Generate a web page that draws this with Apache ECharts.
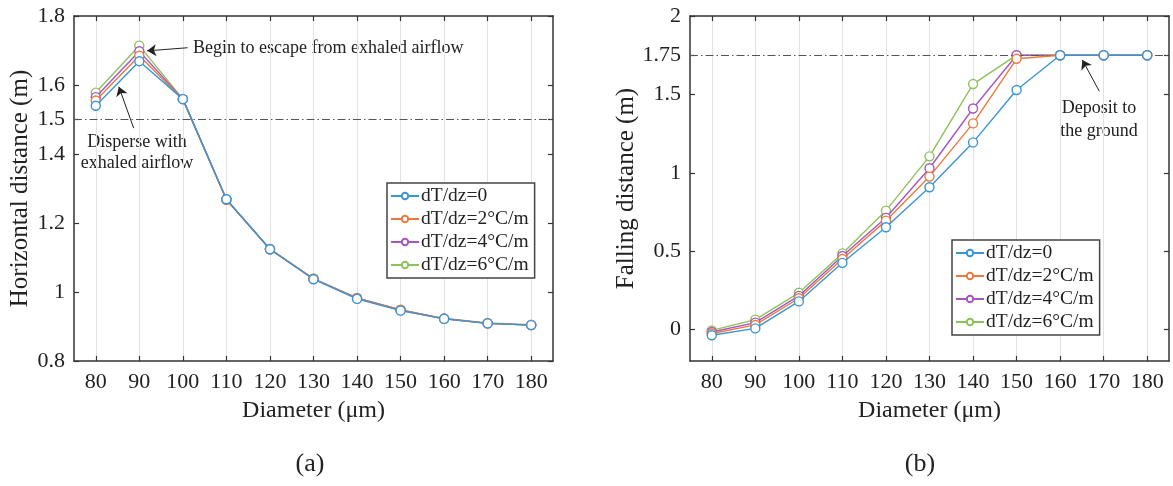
<!DOCTYPE html>
<html>
<head>
<meta charset="utf-8">
<script src="https://cdn.jsdelivr.net/npm/echarts@6/dist/echarts.min.js"></script>
<style>
html,body{margin:0;padding:0;background:#fff;}
#c{width:1173px;height:486px;}
</style>
</head>
<body>
<div id="c"></div>
<script>
// ---- data ----
const diameters = [80, 90, 100, 110, 120, 130, 140, 150, 160, 170, 180];
const seriesNames = ['dT/dz=0', 'dT/dz=2°C/m', 'dT/dz=4°C/m', 'dT/dz=6°C/m'];
// (a) horizontal distance (m)
const horiz0 = [1.540, 1.669, 1.559, 1.269, 1.124, 1.037, 0.980, 0.946, 0.922, 0.909, 0.904];
const horiz2 = [1.555, 1.685, 1.559, 1.268, 1.124, 1.038, 0.981, 0.947, 0.922, 0.909, 0.904];
const horiz4 = [1.565, 1.698, 1.559, 1.268, 1.124, 1.038, 0.982, 0.948, 0.923, 0.909, 0.904];
const horiz6 = [1.578, 1.714, 1.559, 1.267, 1.125, 1.039, 0.983, 0.949, 0.923, 0.910, 0.905];
// (b) falling distance (m)
const fall0 = [-0.036, 0.008, 0.180, 0.426, 0.653, 0.908, 1.194, 1.528, 1.75, 1.75, 1.75];
const fall2 = [-0.025, 0.030, 0.200, 0.450, 0.695, 0.976, 1.315, 1.727, 1.75, 1.75, 1.75];
const fall4 = [-0.015, 0.045, 0.215, 0.470, 0.713, 1.029, 1.410, 1.750, 1.75, 1.75, 1.75];
const fall6 = [-0.005, 0.064, 0.235, 0.486, 0.759, 1.105, 1.566, 1.750, 1.75, 1.75, 1.75];
// tick labels
const xTicks = [80, 90, 100, 110, 120, 130, 140, 150, 160, 170, 180];
const yTicksA = [0.8, 1, 1.2, 1.4, 1.5, 1.6, 1.8];
const yTicksB = [0, 0.5, 1, 1.5, 1.75, 2];
const refLineA = 1.5;
const refLineB = 1.75;

// ---- style ----
const FONT = 'Liberation Serif';
const colors = ['#3A95D6', '#EB7A3E', '#A457C0', '#8CC25A'];
const zOrder = [6, 5, 4, 3];
const axisColor = '#333';
const dashDot = [8, 3, 1.5, 3];

const chart = echarts.init(document.getElementById('c'), null, {renderer: 'canvas'});

function pairs(vals) { return diameters.map((d, i) => [d, vals[i]]); }

const grids = [
  {left: 74, top: 16, width: 479, height: 345},
  {left: 690, top: 16, width: 479, height: 345}
];

function xAxes(gi) {
  return [
    {
      type: 'value', gridIndex: gi, min: 75, max: 185, position: 'bottom',
      name: 'Diameter (μm)', nameLocation: 'middle', nameGap: 38,
      nameTextStyle: {fontFamily: FONT, fontSize: 24, color: '#222'},
      axisLine: {show: true, onZero: false, lineStyle: {color: axisColor, width: 1.5}},
      axisTick: {show: true, inside: true, length: 5, customValues: xTicks, lineStyle: {color: axisColor, width: 1.2}},
      axisLabel: {show: true, customValues: xTicks, margin: 10, fontFamily: FONT, fontSize: 22, color: '#222'},
      splitLine: {show: true, lineStyle: {color: '#e2e2e2', width: 1}}
    },
    {
      type: 'value', gridIndex: gi, min: 75, max: 185, position: 'top',
      axisLine: {show: true, onZero: false, lineStyle: {color: axisColor, width: 1.5}},
      axisTick: {show: true, inside: true, length: 5, customValues: xTicks, lineStyle: {color: axisColor, width: 1.2}},
      axisLabel: {show: false},
      splitLine: {show: false}
    }
  ];
}

function yAxes(gi, min, max, ticks, name) {
  return [
    {
      type: 'value', gridIndex: gi, min: min, max: max, position: 'left',
      name: name, nameLocation: 'middle', nameGap: 41,
      nameTextStyle: {fontFamily: FONT, fontSize: 25, color: '#222'},
      axisLine: {show: true, onZero: false, lineStyle: {color: axisColor, width: 1.5}},
      axisTick: {show: true, inside: true, length: 5, customValues: ticks, lineStyle: {color: axisColor, width: 1.2}},
      axisLabel: {show: true, customValues: ticks, margin: 9, fontFamily: FONT, fontSize: 22, color: '#222'},
      splitLine: {show: false}
    },
    {
      type: 'value', gridIndex: gi, min: min, max: max, position: 'right',
      axisLine: {show: true, onZero: false, lineStyle: {color: axisColor, width: 1.5}},
      axisTick: {show: true, inside: true, length: 5, customValues: ticks, lineStyle: {color: axisColor, width: 1.2}},
      axisLabel: {show: false},
      splitLine: {show: false}
    }
  ];
}

const dataA = [horiz0, horiz2, horiz4, horiz6];
const dataB = [fall0, fall2, fall4, fall6];

function makeSeries(arrs, xi, yi) {
  return arrs.map((vals, k) => ({
    type: 'line', name: seriesNames[k], xAxisIndex: xi, yAxisIndex: yi,
    data: pairs(vals), z: zOrder[k],
    symbol: 'circle', symbolSize: 9, showSymbol: true,
    lineStyle: {color: colors[k], width: 1.4},
    itemStyle: {color: '#fff', borderColor: colors[k], borderWidth: 1.4},
    emphasis: {disabled: true}, animation: false
  }));
}

const seriesA = makeSeries(dataA, 0, 0);
const seriesB = makeSeries(dataB, 2, 2);

const arrowStyle = {color: '#222', width: 1, type: 'solid'};
seriesA[0].markLine = {
  silent: true, animation: false, symbol: ['none', 'none'], symbolSize: 9,
  label: {show: false},
  data: [
    {yAxis: refLineA, lineStyle: {color: '#555', width: 1, type: dashDot}},
    [{coord: [101.1, 1.708], symbol: 'none', lineStyle: arrowStyle}, {coord: [91.8, 1.699], symbol: 'arrow'}],
    [{coord: [88.7, 1.475], symbol: 'none', lineStyle: arrowStyle}, {coord: [85.3, 1.595], symbol: 'arrow'}]
  ]
};
seriesB[0].markLine = {
  silent: true, animation: false, symbol: ['none', 'none'], symbolSize: 9,
  label: {show: false},
  data: [
    {yAxis: refLineB, lineStyle: {color: '#555', width: 1, type: dashDot}},
    [{coord: [169.0, 1.52], symbol: 'none', lineStyle: arrowStyle}, {coord: [165.1, 1.72], symbol: 'arrow'}]
  ]
};

function legendFor(left, top) {
  return {
    left: left, top: top, orient: 'vertical',
    data: seriesNames,
    backgroundColor: '#fff', borderColor: '#444', borderWidth: 1.5,
    padding: [3, 6, 3, 3], itemGap: 3, itemWidth: 28, itemHeight: 8,
    textStyle: {fontFamily: FONT, fontSize: 19.5, color: '#222', padding: [0, 0, 0, -3]},
    selectedMode: false
  };
}

const annText = {fontFamily: FONT, fontSize: 18, fill: '#222'};

chart.setOption({
  animation: false,
  backgroundColor: '#fff',
  color: colors,
  grid: grids,
  xAxis: xAxes(0).concat(xAxes(1)),
  yAxis: yAxes(0, 0.8, 1.8, yTicksA, 'Horizontal distance (m)').concat(yAxes(1, -0.2, 2, yTicksB, 'Falling distance (m)')),
  legend: [legendFor(387, 183), legendFor(952, 240)],
  series: seriesA.concat(seriesB),
  graphic: [
    {type: 'text', left: 193, top: 39, style: Object.assign({text: 'Begin to escape from exhaled airflow'}, annText)},
    {type: 'text', x: 137, y: 132, style: Object.assign({text: 'Disperse with\nexhaled airflow', align: 'center', lineHeight: 21}, annText)},
    {type: 'text', x: 1099, y: 97, style: Object.assign({text: 'Deposit to\nthe ground', align: 'center', lineHeight: 23}, annText)},
    {type: 'text', x: 310, y: 451, style: {text: '(a)', fontFamily: FONT, fontSize: 26, fill: '#222', align: 'center'}},
    {type: 'text', x: 920, y: 451, style: {text: '(b)', fontFamily: FONT, fontSize: 26, fill: '#222', align: 'center'}}
  ]
});
</script>
</body>
</html>
